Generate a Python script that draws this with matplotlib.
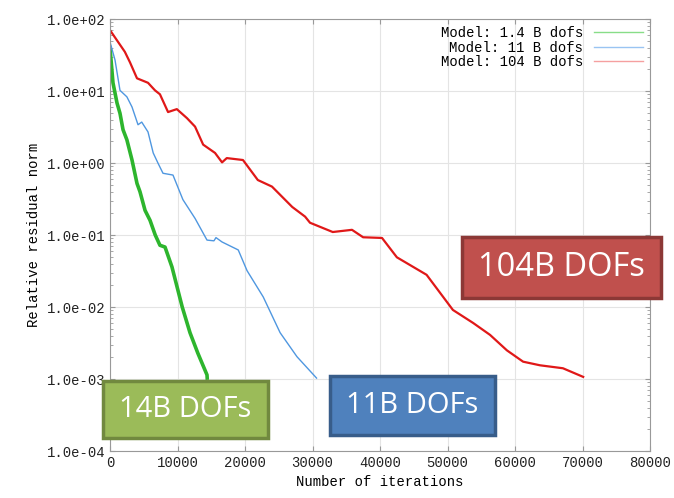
import numpy as np
import matplotlib
matplotlib.use("Agg")
import matplotlib.pyplot as plt
from matplotlib.patches import Rectangle
from matplotlib.ticker import FuncFormatter, LogLocator, NullFormatter

# 1.4 B dofs (green)
it_s = [0, 440, 1040, 1480, 1930, 2500, 3260, 4000, 4440, 5190, 5930, 6700,
        7400, 8150, 9180, 10700, 11850, 13000, 14370, 14400]
res_s = [40, 13, 6.8, 4.9, 2.9, 2.1, 1.1, 0.52, 0.4, 0.22, 0.16, 0.1,
         0.072, 0.068, 0.036, 0.01, 0.0044, 0.0023, 0.00114, 0.00103]

# 11 B dofs (blue)
it_m = [0, 740, 1480, 2500, 3260, 4150, 4700, 5630, 6400, 7100, 7850, 9330,
        10800, 12600, 14370, 15400, 15700, 16600, 19000, 20300, 22700, 25200,
        27700, 30600]
res_m = [48, 27, 10.2, 8.3, 6.0, 3.4, 3.7, 2.7, 1.38, 1.0, 0.72, 0.68,
         0.31, 0.17, 0.085, 0.083, 0.092, 0.08, 0.062, 0.032, 0.0138, 0.0044,
         0.00204, 0.00103]

# 104 B dofs (red)
it_l = [0, 2200, 2960, 4000, 5630, 6670, 7400, 8600, 9900, 11400, 12600, 13800,
        15560, 16600, 17300, 19700, 21900, 24000, 27000, 28900, 29630, 33000,
        35850, 37500, 40300, 42500, 46900, 50800, 53800, 56300, 58800, 61200,
        63700, 67100, 70100]
res_l = [70, 35, 25, 15, 13, 10.2, 9.0, 5.1, 5.6, 4.2, 3.2, 1.8,
         1.38, 1.02, 1.17, 1.1, 0.58, 0.47, 0.245, 0.18, 0.148, 0.11,
         0.118, 0.093, 0.091, 0.049, 0.028, 0.0091, 0.006, 0.0041, 0.0025, 0.00174,
         0.00155, 0.00141, 0.00107]

labels = ["Model: 1.4 B dofs", "Model: 11 B dofs", "Model: 104 B dofs"]
box_texts = ["14B DOFs", "11B DOFs", "104B DOFs"]

mono = "Liberation Mono"

fig = plt.figure(figsize=(6.74, 4.98), dpi=100)
ax = fig.add_axes([110 / 674, 47 / 498, 540 / 674, 432 / 498])

ax.plot(it_s, res_s, color="#2db52d", lw=2.6, label=labels[0])
ax.plot(it_m, res_m, color="#4f97e0", lw=1.0, label=labels[1])
ax.plot(it_l, res_l, color="#e01818", lw=1.6, label=labels[2])

ax.set_yscale("log")
ax.set_xlim(0, 80000)
ax.set_ylim(1e-4, 1e2)
ax.set_xticks(np.arange(0, 80001, 10000))
ax.yaxis.set_major_locator(LogLocator(base=10, numticks=10))
ax.yaxis.set_major_formatter(FuncFormatter(lambda v, p: "%.1e" % v))
ax.yaxis.set_minor_formatter(NullFormatter())
ax.grid(True, which="major", color="#e4e4e4", lw=0.8)
ax.tick_params(which="both", direction="in", top=True, right=True, colors="#999999",
               labelcolor="#222222", labelsize=10)
for lab in ax.get_xticklabels() + ax.get_yticklabels():
    lab.set_family(mono)
for sp in ax.spines.values():
    sp.set_color("#999999")

ax.set_xlabel("Number of iterations", family=mono, fontsize=10)
ax.set_ylabel("Relative residual norm", family=mono, fontsize=10)

leg = ax.legend(loc="upper right", frameon=False, markerfirst=False,
                prop={"family": mono, "size": 10}, handlelength=3.5,
                borderaxespad=0.1, labelspacing=0.05, handletextpad=0.8)
for t in leg.get_texts():
    t.set_ha("right")
leg._legend_box.align = "right"
for h, c in zip(leg.legend_handles, ["#88dd88", "#99c4f2", "#f5a0a0"]):
    h.set_color(c)
    h.set_linewidth(1.0)

# coloured label boxes (pixel coords: x0, y0_top, w, h, fill, edge, font size)
boxes = [
    (103, 381, 165, 57, "#9bbb59", "#71893f", 21),
    (330, 376, 165, 59, "#4f81bd", "#385d8a", 21),
    (462, 237, 199, 61, "#c0504d", "#8c3836", 23.5),
]
for (x0, yt, w, h, fc, ec, fs), txt in zip(boxes, box_texts):
    fx, fy = x0 / 674, (498 - yt - h) / 498
    fw, fh = w / 674, h / 498
    fig.add_artist(Rectangle((fx, fy), fw, fh, transform=fig.transFigure,
                             facecolor=fc, edgecolor=ec, lw=2.5, zorder=10))
    fig.text(fx + fw / 2, fy + fh / 2, txt, color="white", fontsize=fs,
             family="Open Sans", ha="center", va="center", zorder=11)

fig.savefig("out.png", dpi=100)
